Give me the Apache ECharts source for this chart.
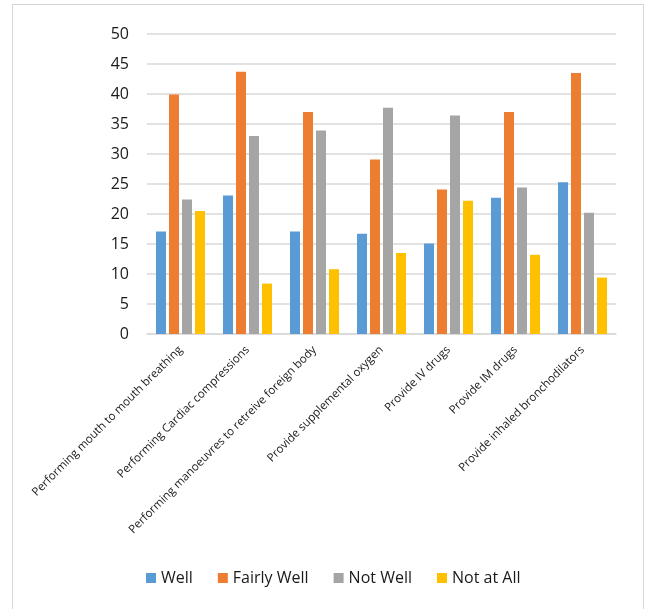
<!DOCTYPE html>
<html>
<head>
<meta charset="utf-8">
<script src="https://cdn.jsdelivr.net/npm/echarts@6/dist/echarts.min.js"></script>
<style>
html,body{margin:0;padding:0;background:#fff;}
#wrap{position:relative;width:646px;height:609px;overflow:hidden;}
#frame{position:absolute;left:12px;top:4px;width:632px;height:620px;border:1px solid #d6d6d6;box-sizing:border-box;}
#chart{position:absolute;left:0;top:0;width:646px;height:609px;}
</style>
</head>
<body>
<div id="wrap">
<div id="frame"></div>
<div id="chart"></div>
</div>
<script>
const categories = [
  "Performing mouth to mouth breathing",
  "Performing Cardiac compressions",
  "Performing manoeuvres to retreive foreign body",
  "Provide supplemental oxygen",
  "Provide IV drugs",
  "Provide IM drugs",
  "Provide inhaled bronchodilators"
];
const seriesNames = ["Well", "Fairly Well", "Not Well", "Not at All"];
const well       = [17.1, 23.1, 17.1, 16.7, 15.1, 22.7, 25.3];
const fairlyWell = [39.9, 43.7, 37.0, 29.1, 24.1, 37.0, 43.5];
const notWell    = [22.4, 33.0, 33.9, 37.7, 36.4, 24.4, 20.2];
const notAtAll   = [20.5, 8.4, 10.8, 13.5, 22.2, 13.2, 9.4];
const colors = ["#5B9BD5", "#ED7D31", "#A5A5A5", "#FFC000"];

const dataSets = [well, fairlyWell, notWell, notAtAll];
const FONT = "'Open Sans', sans-serif";

const chart = echarts.init(document.getElementById('chart'), null, {renderer: 'canvas'});
chart.setOption({
  animation: false,
  textStyle: {fontFamily: FONT},
  grid: {left: 147, right: 30, top: 34, bottom: 275, containLabel: false},
  legend: {
    data: seriesNames,
    left: 141,
    top: 565,
    itemWidth: 10,
    itemHeight: 10,
    itemGap: 25,
    icon: 'rect',
    textStyle: {fontFamily: FONT, fontSize: 16, color: '#1a1a1a'}
  },
  xAxis: {
    type: 'category',
    data: categories,
    axisLine: {show: true, lineStyle: {color: '#d9d9d9', width: 1.5}},
    axisTick: {show: false},
    axisLabel: {
      interval: 0,
      rotate: 45,
      margin: 14,
      fontFamily: FONT,
      fontSize: 11.5,
      color: '#1a1a1a'
    }
  },
  yAxis: {
    type: 'value',
    min: 0,
    max: 50,
    interval: 5,
    axisLine: {show: false},
    axisTick: {show: false},
    splitLine: {lineStyle: {color: '#d9d9d9', width: 1.5}},
    axisLabel: {margin: 18, fontFamily: FONT, fontSize: 16, color: '#1a1a1a'}
  },
  series: seriesNames.map((name, i) => ({
    name: name,
    type: 'bar',
    data: dataSets[i],
    barWidth: 10,
    barGap: '30%',
    itemStyle: {color: colors[i]}
  }))
});
</script>
</body>
</html>
